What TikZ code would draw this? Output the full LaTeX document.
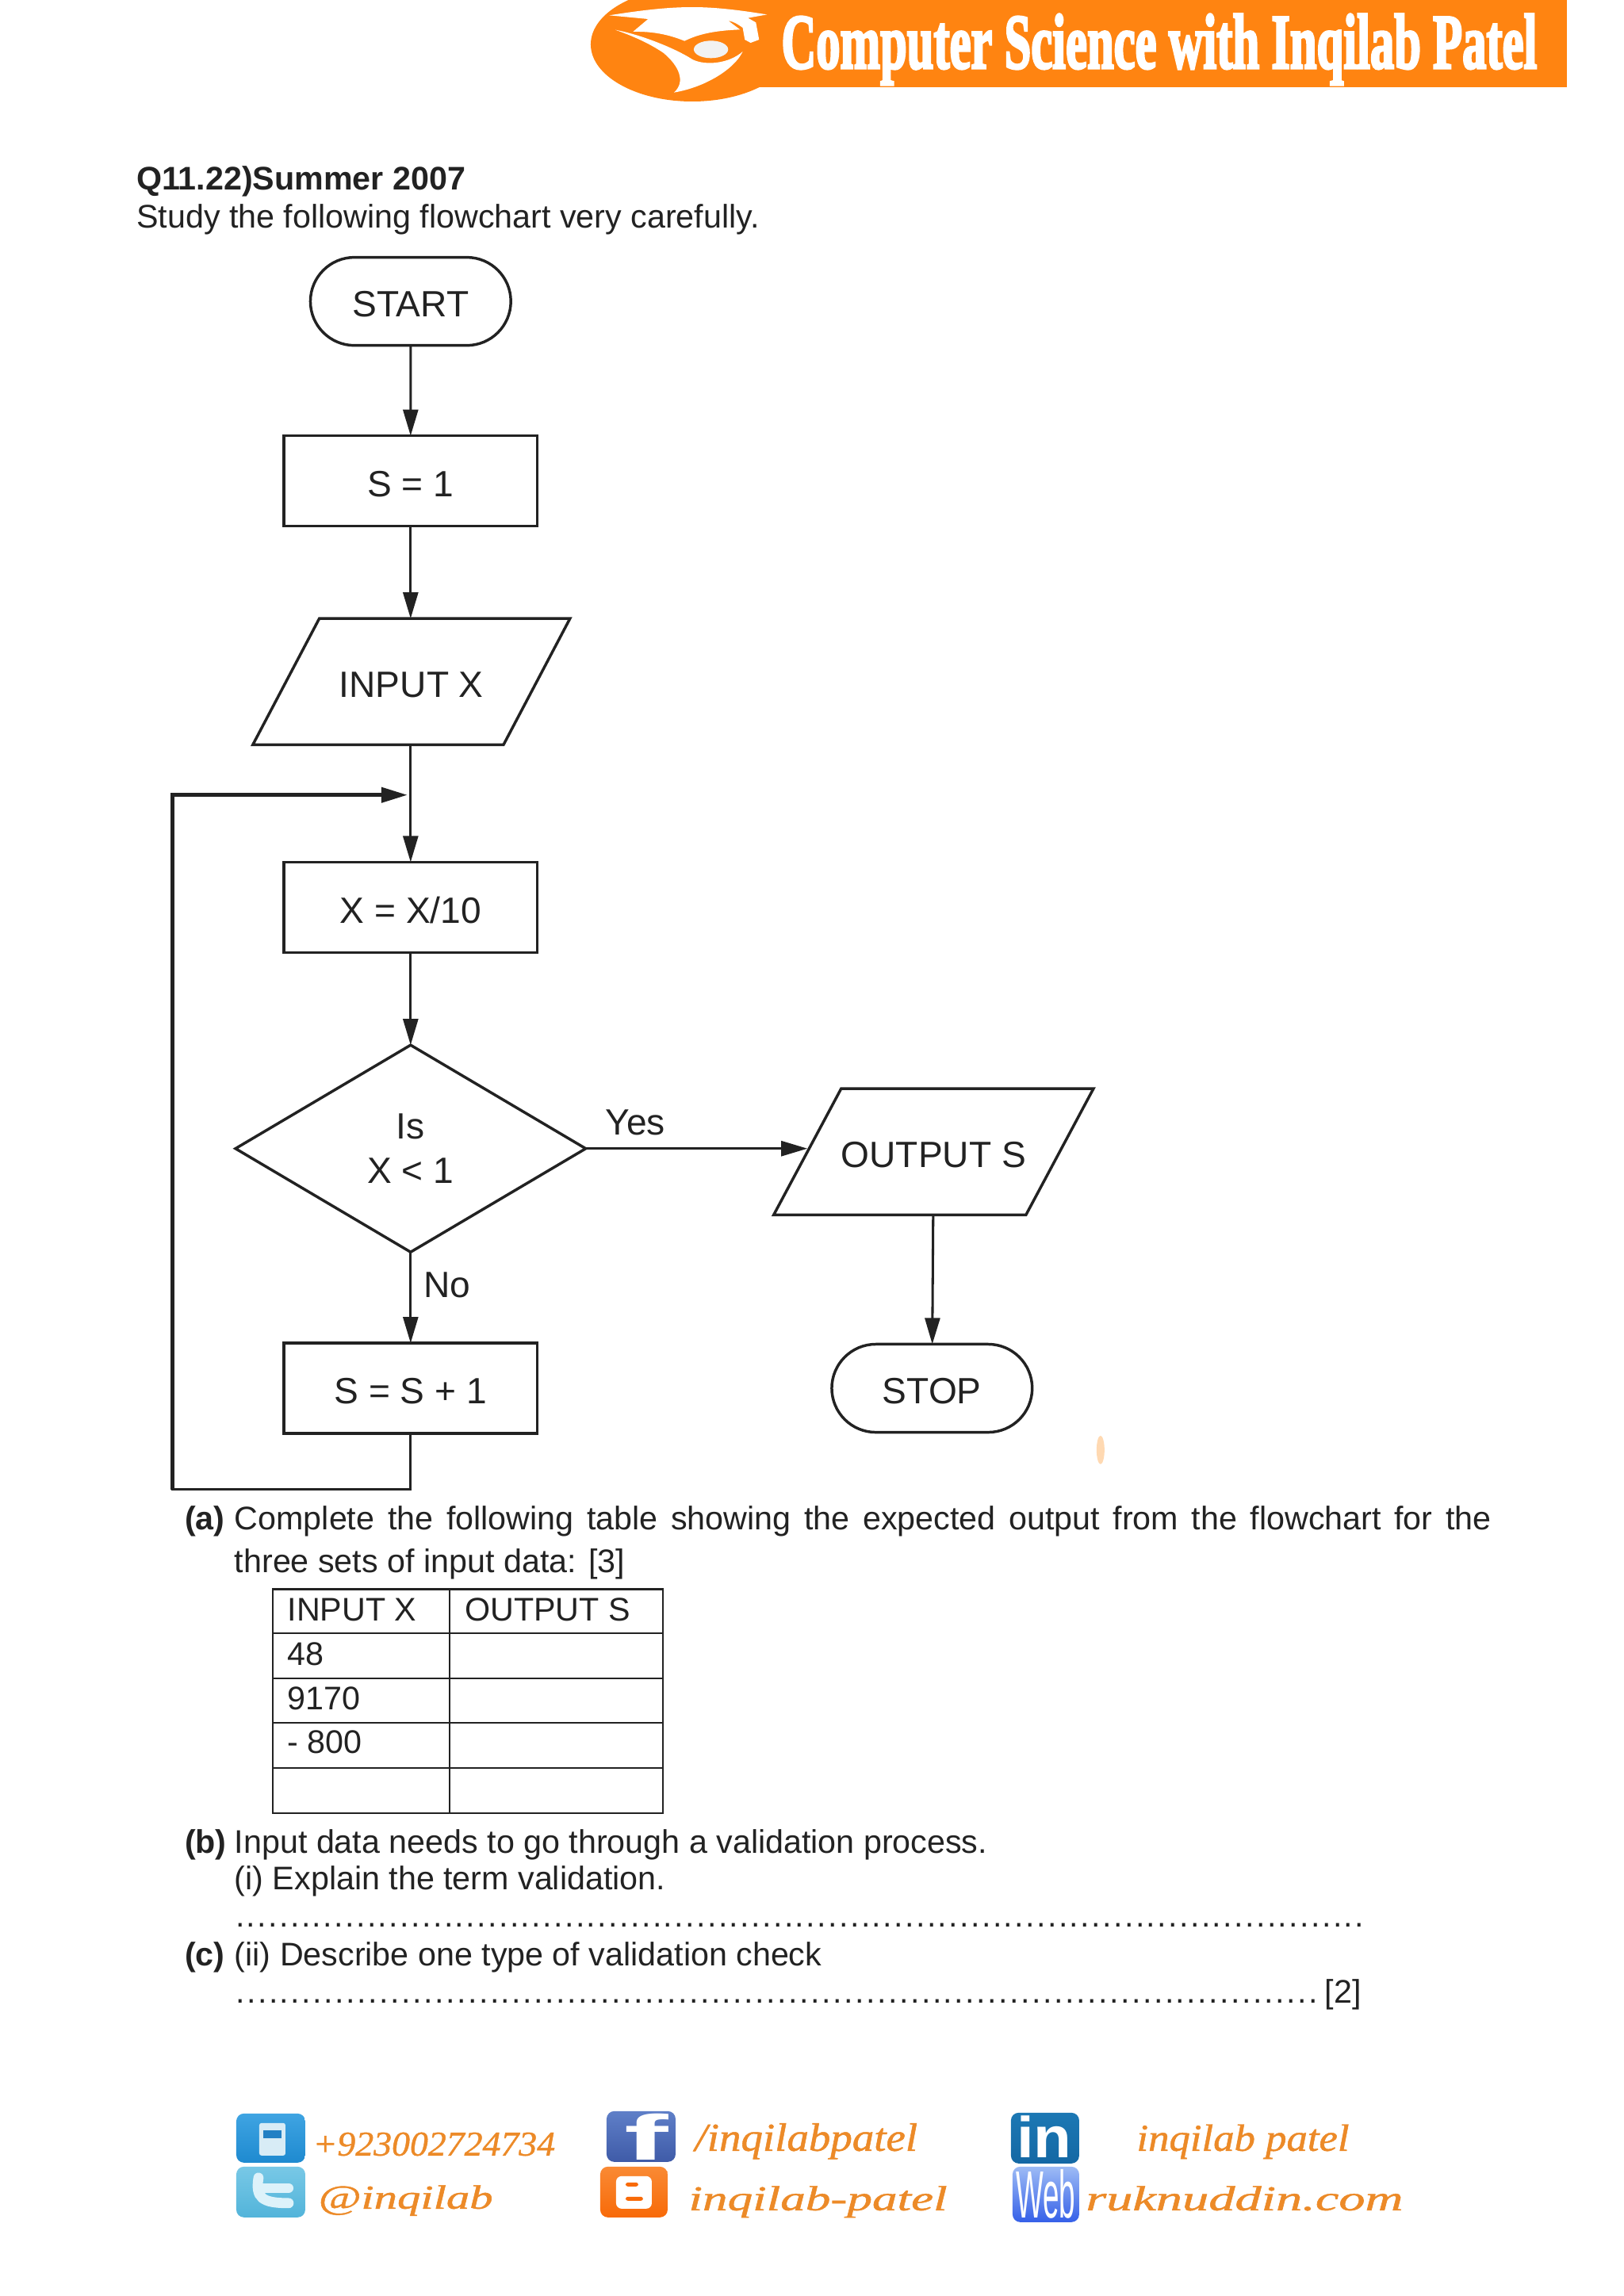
\documentclass[tikz,border=0pt]{standalone}
\usepackage{fontspec}
\usepackage{graphicx}
\setmainfont{Liberation Sans}
\newfontfamily\hdrfont[FakeBold=3.5]{Liberation Serif}
\newfontfamily\callfont[ItalicFeatures={FakeBold=1}]{Liberation Serif}
\usetikzlibrary{arrows.meta,shapes.geometric,shapes.misc,calc}
\definecolor{ink}{HTML}{222222}
\definecolor{brand}{HTML}{FF8411}
\definecolor{callig}{HTML}{EC8A28}
\definecolor{phonetop}{HTML}{3FA4E2}
\definecolor{phonebot}{HTML}{1E8AD0}
\definecolor{phonekey}{HTML}{D8ECF6}
\definecolor{phonescr}{HTML}{2280C4}
\definecolor{fbtop}{HTML}{5F7FC8}
\definecolor{fbbot}{HTML}{3F5BA8}
\definecolor{litop}{HTML}{1C78B4}
\definecolor{libot}{HTML}{1468A4}
\definecolor{twtop}{HTML}{78C8E6}
\definecolor{twbot}{HTML}{52B4DA}
\definecolor{twbird}{HTML}{DDF2FA}
\definecolor{bltop}{HTML}{F98A34}
\definecolor{blbot}{HTML}{F86A08}
\definecolor{webtop}{HTML}{9DBBF5}
\definecolor{webbot}{HTML}{3560E8}
\newcommand{\flowfont}{\fontsize{16.6}{19}\selectfont}
\newcommand{\bodyfont}{\fontsize{14.85}{18}\selectfont}
\newcommand{\callig}[3]{\resizebox{#1pt}{#2pt}{\callfont\itshape #3}}
\newcommand{\dotrow}[1]{\hbox to #1pt{\xleaders\hbox to 4.98pt{\hss.\hss}\hfill}}
\newcommand{\lowb}[1]{\raisebox{-1.3pt}[\height][\depth]{#1}}
\tikzset{
  x=0.3592pt,y=-0.3592pt,
  truepx/.style={x=0.36pt,y=-0.36pt},
  flow/.style={draw=ink,line width=1.25pt,fill=white,text=ink,font=\flowfont,inner sep=0pt,outer sep=0pt,align=center},
  procbox/.style={flow,rectangle,minimum width=115pt,minimum height=41pt},
  termbox/.style={flow,rounded rectangle,minimum width=91pt,minimum height=40pt},
  iobox/.style={flow,trapezium,trapezium left angle=21,trapezium right angle=159,trapezium stretches body,minimum width=144pt,minimum height=57.3pt},
  decbox/.style={flow,diamond,aspect=1.69,minimum width=159pt,minimum height=94pt},
  head/.style={-{Triangle[length=11.9pt,width=6.8pt]}},
  conn/.style={draw=ink,line width=1.1pt,head},
  flab/.style={text=ink,font=\flowfont,inner sep=0pt},
  txt/.style={anchor=base west,inner sep=0pt,text=ink,font=\bodyfont},
  cell/.style={draw=ink,line width=0.75pt},
  cal/.style={anchor=base west,inner sep=0pt,text=callig},
  icon/.style={rounded corners=3.5pt},
}
\begin{document}
\begin{tikzpicture}
\useasboundingbox (0,0) rectangle (2052.5,2902.6);

% header
\begin{scope}[truepx]
\fill[brand] (873,0) rectangle (1976,110);
\fill[brand] (873,56) ellipse [x radius=128,y radius=72];
\node[anchor=base west,inner sep=0pt,text=white] (hdr) at (985,86) {\resizebox{343pt}{24.5pt}{\hdrfont\bfseries Computer Science with Inqilab Patel}};
\end{scope}
\begin{scope}[shift={(266.4pt,0pt)},x=0.12pt,y=-0.12pt]
  \fill[white] (85,58) .. controls (200,40) and (300,27) .. (400,27) .. controls (500,27) and (600,42) .. (682,55) -- (610,68) -- (640,85) -- (652,150) -- (620,162) -- (598,150) -- (590,105) .. controls (570,90) and (555,82) .. (535,78) -- (580,112) .. controls (500,115) and (430,125) .. (370,155) .. controls (320,135) and (260,118) .. (175,120) -- (232,72) -- cycle;
  \fill[white] (108,113) .. controls (200,130) and (330,180) .. (400,225) .. controls (450,250) and (540,240) .. (590,195) .. controls (560,260) and (450,330) .. (330,350) .. controls (375,310) and (350,250) .. (290,200) .. controls (230,160) and (170,135) .. (108,113) -- cycle;
  \fill[white!95!black] (470,187) ellipse [x radius=65,y radius=33];
\end{scope}

% question heading
\node[txt,font=\bodyfont\bfseries] (qhead) at (172,240) {Q11.22)Summer 2007};
\node[txt] (qline) at (172,288) {Study the following flowchart very carefully.};

% flowchart
\node[termbox] (start) at (519,381) {\lowb{START}};
\node[procbox] (s1) at (519,608) {\lowb{S = 1}};
\node[iobox] (inp) at (520,861.7) {\lowb{INPUT X}};
\node[procbox] (xdiv) at (519,1147) {\lowb{X = X/10}};
\node[decbox] (dec) at (519,1452) {Is\\[1pt]X < 1};
\node[procbox] (sinc) at (519,1755) {\lowb{S = S + 1}};
\node[iobox] (outp) at (1180,1456) {\lowb{OUTPUT S}};
\node[termbox] (stop) at (1178,1755) {\lowb{STOP}};
\coordinate (joint) at (515,1005);
\coordinate (lbr) at (519,1883);
\coordinate (lbl) at (218,1883);
\coordinate (ltl) at (218,1005);

\draw[conn] (start) -- (s1);
\draw[conn] (s1) -- (inp.north -| s1);
\draw[conn] (inp.south -| xdiv) -- (xdiv);
\draw[conn] (xdiv) -- (dec);
\draw[conn] (dec) -- (sinc);
\draw[conn] (dec.east) -- (dec.east -| outp.west);
\draw[conn] (outp) -- (stop);
\draw[draw=ink,line width=1.2pt,line cap=rect] (sinc.south) -- (lbr) -- (lbl);
\draw[draw=ink,line width=1.7pt,head] (lbl) -- (ltl) -- (joint);
\node[flab] (yes) at (803,1419) {Yes};
\node[flab] (no) at (565,1625) {No};
\fill[orange!30] (1391,1833) ellipse [x radius=5,y radius=18];

% part (a)
\node[txt,font=\bodyfont\bfseries] (pa) at (233,1934) {(a)};
\node[txt] (aline1) at (296,1934) {\makebox[570.6pt][s]{Complete the following table showing the expected output from the flowchart for the}};
\node[txt] (aline2) at (296,1988) {three sets of input data: [3]};

% table
\draw[cell] (345,2009) rectangle (838,2292);
\draw[cell] (568,2009) -- (568,2292);
\draw[cell] (345,2065) -- (838,2065);
\draw[cell] (345,2122) -- (838,2122);
\draw[cell] (345,2178) -- (838,2178);
\draw[cell] (345,2235) -- (838,2235);
\node[txt] (th1) at (363,2049) {INPUT X};
\node[txt] (th2) at (587,2049) {OUTPUT S};
\node[txt] (r1) at (363,2105) {48};
\node[txt] (r2) at (363,2161) {9170};
\node[txt] (r3) at (363,2217) {- 800};

% parts (b), (c)
\node[txt,font=\bodyfont\bfseries] (pb) at (233,2343) {(b)};
\node[txt] (bline1) at (296,2343) {Input data needs to go through a validation process.};
\node[txt] (bline2) at (296,2389) {(i) Explain the term validation.};
\node[txt] (bdots) at (296,2436) {\dotrow{513}};
\node[txt,font=\bodyfont\bfseries] (pc) at (233,2485) {(c)};
\node[txt] (cline1) at (296,2485) {(ii) Describe one type of validation check};
\node[txt] (cdots) at (296,2532) {\dotrow{492}};
\node[txt] (cmark) at (1674,2532) {[2]};

% footer
\begin{scope}[truepx]
\shade[icon,top color=phonetop,bottom color=phonebot] (298,2666) rectangle (385,2728);
\fill[phonekey,rounded corners=1pt] (327,2678) rectangle (360,2719);
\fill[phonescr] (332,2687) rectangle (355,2697);
\shade[icon,top color=fbtop,bottom color=fbbot] (765,2663) rectangle (852,2727);
\node[inner sep=0pt,text=white,anchor=base] (ficon) at (815,2725) {\resizebox{20pt}{21pt}{\bfseries f}};
\shade[icon,top color=litop,bottom color=libot] (1275,2665) rectangle (1361,2729);
\node[inner sep=0pt,text=white,anchor=base] (inicon) at (1317,2722) {\resizebox{25pt}{19pt}{\bfseries in}};
\shade[icon,top color=twtop,bottom color=twbot] (298,2733) rectangle (385,2797);
\draw[twbird,line width=4.6pt,line cap=round] (326,2747) .. controls (322,2772) and (330,2779) .. (364,2779);
\draw[twbird,line width=4.4pt,line cap=round] (328,2760) -- (364,2760);
\shade[icon,top color=bltop,bottom color=blbot] (757,2733) rectangle (842,2797);
\fill[white,rounded corners=2.5pt] (777,2745) rectangle (822,2786);
\fill[blbot,rounded corners=1pt] (789,2753) rectangle (805,2758);
\fill[blbot,rounded corners=1pt] (789,2771) rectangle (811,2776);
\shade[icon,top color=webtop,bottom color=webbot] (1277,2733) rectangle (1361,2803);
\node[inner sep=0pt,text=white,anchor=base] (webicon) at (1319,2798) {\resizebox{27pt}{22pt}{Web}};
\node[cal] (ph) at (394,2719) {\callig{110}{10.5}{+923002724734}};
\node[cal] (fb) at (876,2713) {\callig{101}{12.5}{/inqilabpatel}};
\node[cal] (li) at (1433,2713) {\callig{96.5}{12}{inqilab patel}};
\node[cal] (tw) at (401,2786) {\callig{79.2}{10.6}{@inqilab}};
\node[cal] (bl) at (868,2788) {\callig{117.4}{11}{inqilab-patel}};
\node[cal] (web) at (1369,2788) {\callig{144}{11}{ruknuddin.com}};
\end{scope}
\end{tikzpicture}
\end{document}
